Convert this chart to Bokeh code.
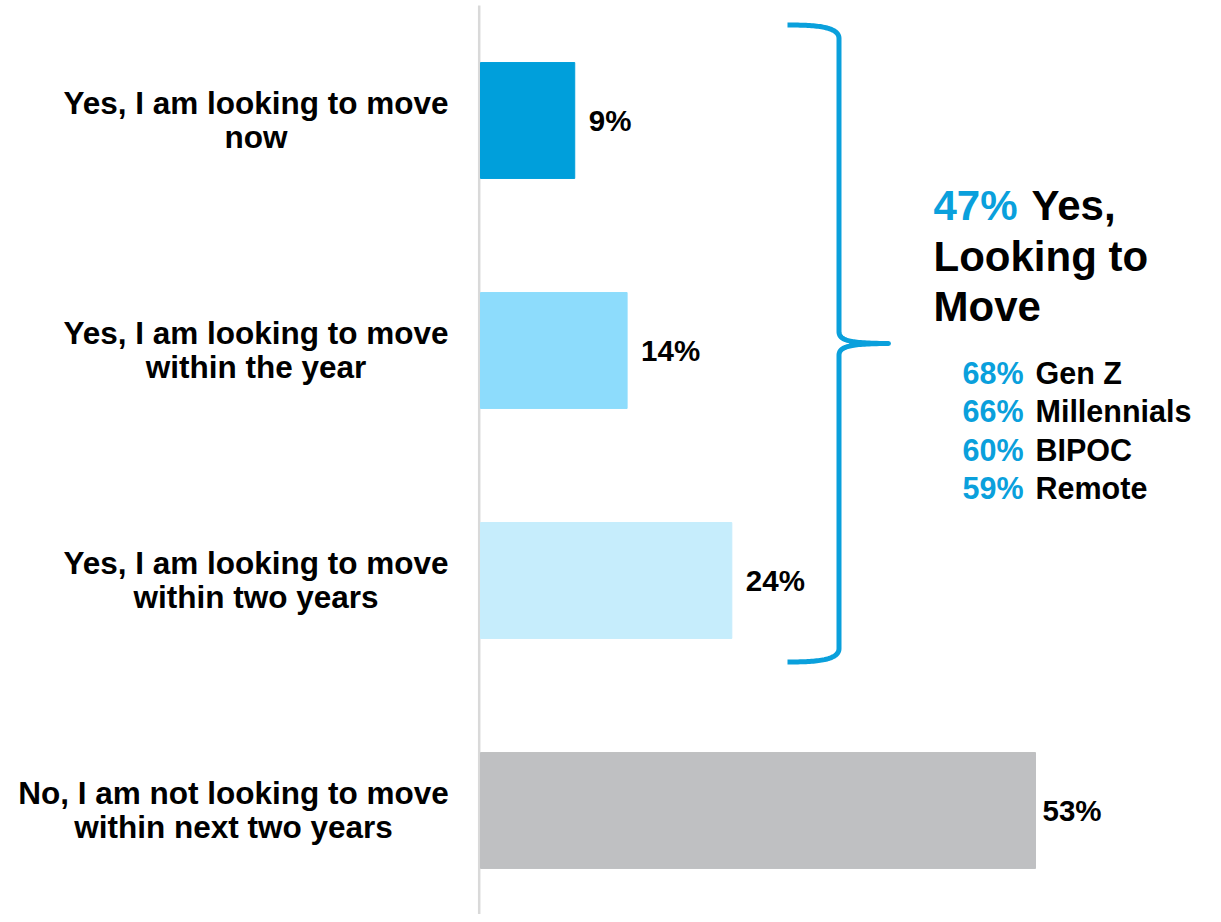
import numpy as np
from bokeh.plotting import figure
from bokeh.models import Range1d, ColumnDataSource
from bokeh.embed import file_html
from bokeh.resources import INLINE
from bokeh.core.properties import value

# ---------------- data ----------------
label_line1 = ["Yes, I am looking to move", "Yes, I am looking to move",
               "Yes, I am looking to move", "No, I am not looking to move"]
label_line2 = ["now", "within the year", "within two years", "within next two years"]
shares = [9, 14, 24, 53]
share_labels = ["9%", "14%", "24%", "53%"]
bar_colors = ["#009fdb", "#8ddcfc", "#c6edfc", "#bfc0c2"]

summary_value = "47%"
summary_words = ["Yes,", "Looking to", "Move"]
segment_values = ["68%", "66%", "60%", "59%"]
segment_names = ["Gen Z", "Millennials", "BIPOC", "Remote"]

# ---------------- layout ----------------
W, H = 1213, 914
ORIGIN = 0.0            # screen position of the figure's top-left corner
ZERO_PX = 480.0
K = 555.0 / 53.0        # pixels per percentage point
ROW0, ROW_STEP = 120.0, 230.0
BLUE = "#0aa0dc"
FONT = value("Liberation Sans")


def X(sx):
    return (sx - ZERO_PX) / K


def Y(sy):
    return (sy - ROW0) / ROW_STEP


p = figure(width=W, height=H, output_backend="svg", toolbar_location=None,
           x_range=Range1d(X(ORIGIN), X(ORIGIN + W)),
           y_range=Range1d(Y(ORIGIN + H), Y(ORIGIN)),
           x_axis_location=None, y_axis_location=None, min_border=0,
           outline_line_color=None, background_fill_color="white",
           border_fill_color="white")
p.grid.visible = False

idx = list(range(len(shares)))

# vertical axis line
p.segment(x0=[X(478.7)], y0=[Y(5)], x1=[X(478.7)], y1=[Y(940)],
          line_color="#d9d9d9", line_width=2.5)

# bars
src = ColumnDataSource(dict(y=idx, right=shares, color=bar_colors,
                            lab=share_labels, l1=label_line1, l2=label_line2,
                            cx=[X(255.5), X(255.5), X(255.5), X(233)],
                            xoff=[14, 14, 14, 7]))
p.hbar(y="y", left=0, right="right", height=0.504, color="color", source=src)

# value labels
p.text(x="right", y="y", text="lab", source=src, x_offset="xoff", y_offset=0,
       text_align="left", text_baseline="middle", text_font=FONT,
       text_font_style="bold", text_font_size=value("29.5px"), text_color="#000000")

# category labels (two centered lines)
p.text(x="cx", y="y", text="l1", source=src, y_offset=-18,
       text_align="center", text_baseline="alphabetic", text_font=FONT,
       text_font_style="bold", text_font_size=value("31.5px"), text_color="#000000")
p.text(x="cx", y="y", text="l2", source=src, y_offset=16.5,
       text_align="center", text_baseline="alphabetic", text_font=FONT,
       text_font_style="bold", text_font_size=value("31.5px"), text_color="#000000")


# brace
def cubic(p0, p1, p2, p3, n=40):
    t = np.linspace(0, 1, n)[:, None]
    a, b, c, d = (np.array(q, dtype=float) for q in (p0, p1, p2, p3))
    return ((1 - t) ** 3) * a + 3 * ((1 - t) ** 2) * t * b + 3 * (1 - t) * t ** 2 * c + t ** 3 * d


pts = np.vstack([
    cubic((787, 24.5), (815, 24.5), (838.5, 26), (838.5, 38)),
    cubic((838.5, 38), (838.5, 150), (838.5, 250), (838.5, 331)),
    cubic((838.5, 331), (838.5, 339), (846, 343), (888, 343)),
    cubic((888, 343), (846, 343), (838.5, 347), (838.5, 355)),
    cubic((838.5, 355), (838.5, 450), (838.5, 550), (838.5, 648)),
    cubic((838.5, 648), (838.5, 660), (815, 661.5), (787, 661.5)),
])
p.line(x=[X(v) for v in pts[:, 0]], y=[Y(v) for v in pts[:, 1]],
       line_color=BLUE, line_width=5, line_join="round")

# summary text
big = value("42px")
p.text(x=[X(933)], y=[Y(205)], text=[summary_value], text_font=FONT,
       text_font_style="bold", text_font_size=big, text_color=BLUE,
       text_baseline="alphabetic", text_align="left")
p.text(x=[X(1031)], y=[Y(205)], text=[summary_words[0]], text_font=FONT,
       text_font_style="bold", text_font_size=big, text_color="#000000",
       text_baseline="alphabetic", text_align="left")
p.text(x=[X(933), X(933)], y=[Y(256), Y(306)], text=summary_words[1:],
       text_font=FONT, text_font_style="bold", text_font_size=big,
       text_color="#000000", text_baseline="alphabetic", text_align="left")

seg_y = [Y(372), Y(410.5), Y(449), Y(487)]
small = value("30.5px")
p.text(x=[X(962)] * 4, y=seg_y, text=segment_values, text_font=FONT,
       text_font_style="bold", text_font_size=small, text_color=BLUE,
       text_baseline="alphabetic", text_align="left")
p.text(x=[X(1035)] * 4, y=seg_y, text=segment_names, text_font=FONT,
       text_font_style="bold", text_font_size=small, text_color="#000000",
       text_baseline="alphabetic", text_align="left")

open("out.html", "w").write(file_html(p, INLINE))
